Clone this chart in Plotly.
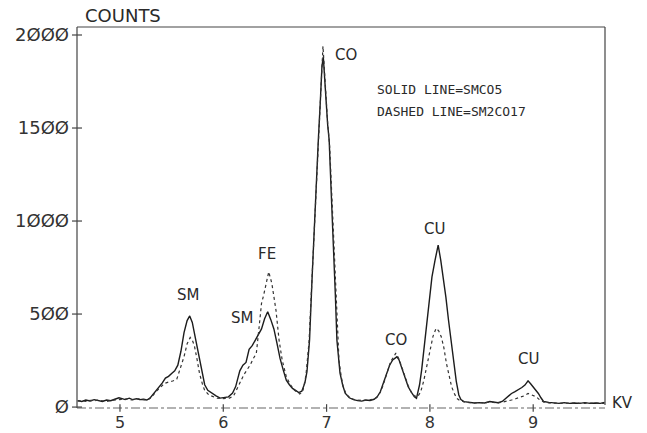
import plotly.graph_objects as go

# ---- data (kV, counts) ----
solid_kv = [4.59, 4.63, 4.67, 4.71, 4.75, 4.79, 4.83, 4.87, 4.91, 4.95, 4.99, 5.02, 5.05, 5.09, 5.12, 5.16, 5.19, 5.23, 5.26, 5.29,
            5.33, 5.37, 5.41, 5.44, 5.47, 5.50, 5.53, 5.56, 5.59, 5.62, 5.65, 5.675, 5.70, 5.73, 5.76, 5.79, 5.82, 5.85, 5.89, 5.93,
            5.97, 6.01, 6.05, 6.09, 6.12, 6.16, 6.19, 6.22, 6.25, 6.28, 6.31, 6.34, 6.37, 6.40, 6.43, 6.46, 6.49, 6.52, 6.55, 6.58,
            6.61, 6.64, 6.67, 6.70, 6.73, 6.76, 6.79, 6.81, 6.835, 6.86, 6.875, 6.90, 6.92, 6.94, 6.955, 6.968, 6.98, 6.995, 7.01, 7.025,
            7.045, 7.065, 7.085, 7.10, 7.115, 7.13, 7.155, 7.18, 7.22, 7.26, 7.30, 7.34, 7.38, 7.42, 7.46, 7.49, 7.52, 7.55, 7.58, 7.61,
            7.64, 7.68, 7.70, 7.72, 7.75, 7.79, 7.82, 7.85, 7.87, 7.90, 7.92, 7.945, 7.97, 7.995, 8.02, 8.05, 8.08, 8.105, 8.13, 8.155,
            8.18, 8.205, 8.23, 8.255, 8.28, 8.30, 8.33, 8.38, 8.43, 8.48, 8.53, 8.58, 8.62, 8.66, 8.70, 8.73, 8.76, 8.79, 8.82, 8.85,
            8.89, 8.92, 8.95, 8.975, 9.00, 9.03, 9.05, 9.075, 9.10, 9.15, 9.20, 9.25, 9.30, 9.35, 9.40, 9.45, 9.50, 9.55, 9.60, 9.65, 9.69]
solid_counts = [35, 30, 38, 33, 40, 35, 30, 38, 34, 42, 50, 45, 40, 48, 40, 45, 40, 42, 38, 48,
                75, 105, 130, 156, 165, 181, 195, 225, 300, 400, 465, 490, 455, 370, 285, 205, 120, 90, 73, 60,
                48, 52, 55, 75, 110, 195, 225, 240, 310, 330, 360, 390, 420, 475, 512, 470, 420, 342, 260, 200,
                145, 120, 100, 90, 78, 85, 130, 190, 360, 700, 900, 1200, 1435, 1650, 1830, 1883, 1800, 1650, 1520, 1435,
                1150, 898, 600, 360, 260, 183, 120, 75, 50, 40, 35, 32, 38, 35, 42, 55, 82, 130, 181, 225,
                253, 270, 255, 220, 170, 109, 80, 55, 47, 120, 199, 330, 468, 590, 700, 790, 871, 790, 700, 590,
                468, 350, 235, 140, 65, 40, 29, 25, 22, 24, 22, 30, 25, 23, 30, 45, 60, 73, 82, 91,
                105, 118, 141, 125, 109, 90, 73, 50, 30, 25, 22, 20, 24, 20, 22, 20, 24, 20, 22, 20, 25]

dashed_kv = [4.59, 4.63, 4.67, 4.71, 4.75, 4.79, 4.83, 4.87, 4.91, 4.95, 4.99, 5.03, 5.07, 5.11, 5.15, 5.19, 5.23, 5.27, 5.31, 5.35,
             5.39, 5.43, 5.47, 5.51, 5.55, 5.58, 5.62, 5.65, 5.68, 5.70, 5.72, 5.745, 5.77, 5.80, 5.82, 5.86, 5.90, 5.94, 5.98, 6.02,
             6.06, 6.10, 6.13, 6.16, 6.20, 6.23, 6.26, 6.29, 6.32, 6.345, 6.37, 6.39, 6.41, 6.44, 6.47, 6.49, 6.51, 6.54, 6.57, 6.61,
             6.65, 6.69, 6.74, 6.77, 6.80, 6.83, 6.86, 6.88, 6.90, 6.92, 6.94, 6.955, 6.965, 6.975, 6.99, 7.01, 7.03, 7.05, 7.07, 7.09,
             7.105, 7.12, 7.14, 7.16, 7.19, 7.23, 7.27, 7.31, 7.35, 7.39, 7.43, 7.47, 7.50, 7.53, 7.56, 7.59, 7.62, 7.65, 7.67, 7.70,
             7.73, 7.76, 7.79, 7.82, 7.85, 7.88, 7.91, 7.94, 7.97, 8.00, 8.03, 8.06, 8.085, 8.11, 8.135, 8.16, 8.185, 8.21, 8.235, 8.26,
             8.29, 8.33, 8.38, 8.43, 8.48, 8.53, 8.58, 8.62, 8.66, 8.70, 8.75, 8.79, 8.83, 8.87, 8.91, 8.95, 8.99, 9.03, 9.06, 9.10,
             9.15, 9.20, 9.25, 9.30, 9.35, 9.40, 9.45, 9.50, 9.55, 9.60, 9.65, 9.69]
dashed_counts = [32, 35, 30, 36, 33, 38, 34, 30, 36, 38, 42, 40, 44, 38, 42, 45, 40, 38, 55, 85,
                 105, 127, 135, 140, 150, 200, 271, 340, 374, 360, 330, 260, 181, 120, 90, 65, 55, 48, 45, 45,
                 48, 60, 95, 130, 175, 200, 226, 260, 289, 420, 557, 600, 647, 727, 665, 600, 521, 360, 253, 163,
                 120, 90, 70, 85, 170, 350, 700, 950, 1200, 1450, 1700, 1870, 1940, 1850, 1700, 1530, 1400, 1130, 870, 580,
                 360, 250, 170, 110, 70, 48, 40, 36, 38, 35, 40, 45, 60, 90, 140, 200, 245, 270, 290, 260,
                 210, 160, 115, 80, 60, 55, 80, 140, 220, 306, 380, 423, 410, 378, 320, 235, 170, 110, 75, 47,
                 35, 28, 24, 22, 25, 22, 28, 24, 22, 26, 35, 38, 45, 52, 60, 73, 62, 55, 40, 28,
                 22, 20, 22, 20, 22, 20, 22, 20, 22, 20, 22, 20]

x_tick_vals = [5, 6, 7, 8, 9]
x_tick_text = ["5", "6", "7", "8", "9"]
y_tick_vals = [0, 500, 1000, 1500, 2000]
y_tick_text = ["Ø", "5ØØ", "1ØØØ", "15ØØ", "2ØØØ"]

peak_labels = ["SM", "SM", "FE", "CO", "CO", "CU", "CU"]
peak_label_kv = [5.658, 6.184, 6.42, 7.188, 7.672, 8.049, 8.953]
peak_label_counts = [602, 477, 823, 1892, 360, 957, 258]

X_RANGE = [4.584, 9.695]
Y_RANGE = [-5, 2043]

INK = "#1c1c1c"
FRAME = "#444444"
FONT = "DejaVu Sans"

fig = go.Figure()
fig.add_trace(go.Scatter(x=solid_kv, y=solid_counts, mode="lines",
                         line=dict(color=INK, width=1.4), name="SMCO5", showlegend=False))
fig.add_trace(go.Scatter(x=dashed_kv, y=dashed_counts, mode="lines",
                         line=dict(color="#333333", width=1.2, dash="dot"), name="SM2CO17", showlegend=False))

shapes = []
# frame: left, top, right solid; bottom dash-dot
shapes.append(dict(type="line", xref="paper", yref="paper", x0=0, x1=0, y0=0, y1=1, line=dict(color=FRAME, width=1.2)))
shapes.append(dict(type="line", xref="paper", yref="paper", x0=0, x1=1, y0=1, y1=1, line=dict(color=FRAME, width=1.2)))
shapes.append(dict(type="line", xref="paper", yref="paper", x0=1, x1=1, y0=0.008, y1=1, line=dict(color=FRAME, width=1.2)))
shapes.append(dict(type="line", xref="paper", yref="paper", x0=0, x1=1, y0=0, y1=0, line=dict(color="#666666", width=1.1, dash="dashdot")))
for yv in y_tick_vals:
    shapes.append(dict(type="line", xref="paper", yref="y", x0=-0.0095, x1=0.0095, y0=yv, y1=yv, line=dict(color=FRAME, width=1.2)))
for xv in x_tick_vals:
    shapes.append(dict(type="line", xref="x", yref="paper", x0=xv, x1=xv, y0=-0.01, y1=0.01, line=dict(color=FRAME, width=1.2)))

annotations = []
for t, xv, yv in zip(peak_labels, peak_label_kv, peak_label_counts):
    annotations.append(dict(text=t, x=xv, y=yv, xref="x", yref="y", showarrow=False,
                            xanchor="center", yanchor="middle", font=dict(family=FONT, size=15, color="#2a2a2a")))
annotations.append(dict(text="COUNTS", x=0.087, y=1.031, xref="paper", yref="paper", showarrow=False,
                        xanchor="center", yanchor="middle", font=dict(family=FONT, size=18, color="#2a2a2a")))
annotations.append(dict(text="KV", x=1.034, y=21, xref="paper", yref="y", showarrow=False,
                        xanchor="center", yanchor="middle", font=dict(family=FONT, size=15, color="#2a2a2a")))
annotations.append(dict(text="SOLID LINE=SMCO5", x=0.564, y=0.835, xref="paper", yref="paper", showarrow=False,
                        xanchor="left", yanchor="middle", font=dict(family="DejaVu Sans Mono", size=13, color="#2a2a2a")))
annotations.append(dict(text="DASHED LINE=SM2CO17", x=0.564, y=0.777, xref="paper", yref="paper", showarrow=False,
                        xanchor="left", yanchor="middle", font=dict(family="DejaVu Sans Mono", size=13, color="#2a2a2a")))

fig.update_layout(
    width=647, height=433,
    margin=dict(l=77, r=42, t=27, b=25, pad=0, autoexpand=False),
    paper_bgcolor="white", plot_bgcolor="white",
    shapes=shapes, annotations=annotations,
    xaxis=dict(range=X_RANGE, tickvals=x_tick_vals, ticktext=x_tick_text, showgrid=False, zeroline=False,
               showline=False, ticks="", ticklabelstandoff=3, automargin=False,
               tickfont=dict(family=FONT, size=16, color="#333333")),
    yaxis=dict(range=Y_RANGE, tickvals=y_tick_vals, ticktext=y_tick_text, showgrid=False, zeroline=False,
               showline=False, ticks="", ticklabelstandoff=7, automargin=False,
               tickfont=dict(family=FONT, size=18, color="#333333")),
)

fig.write_html("out.html")
